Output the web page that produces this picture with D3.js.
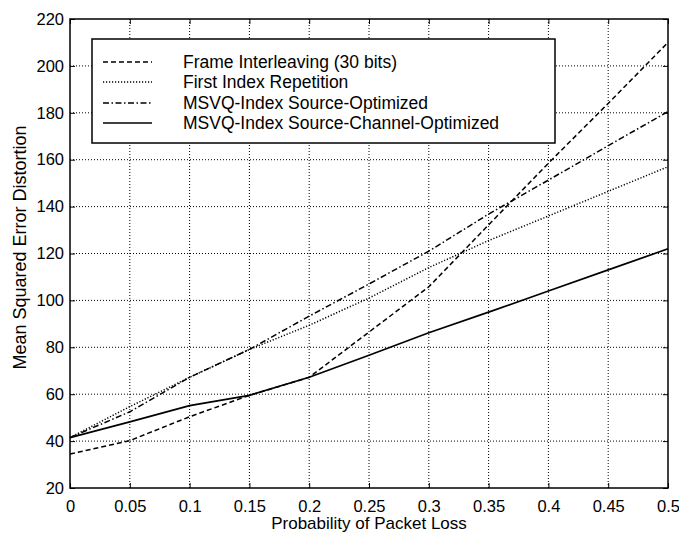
<!DOCTYPE html>
<html>
<head>
<meta charset="utf-8">
<script src="https://cdn.jsdelivr.net/npm/d3@7"></script>
<style>
  body { margin: 0; background: #fff; }
  svg { display: block; font-family: "Liberation Sans", Arial, sans-serif; }
</style>
</head>
<body>
<svg id="chart" width="679" height="533"></svg>
<script>
// probability of packet loss
const lossProb = [0, 0.05, 0.1, 0.15, 0.2, 0.25, 0.3, 0.35, 0.4, 0.45, 0.5];

// distortion values
const frameInterleaving = [34.5, 40.2, 50.4, 59.5, 67.2, 86.5, 105.8, 132.2, 158.5, 184, 210];
const firstIndexRep     = [41.5, 54.7, 67.2, 79.1, 89.4, 101, 114, 125.5, 136, 146.5, 157];
const sourceOptimized   = [41.5, 52.5, 67.2, 79.1, 93.3, 107, 121, 136.8, 151.3, 166, 180.5];
const sourceChannelOpt  = [41.5, 48.2, 55.1, 59.5, 67.2, 76.6, 86.2, 95, 104, 113, 122];

const seriesNames = [
  "Frame Interleaving (30 bits)",
  "First Index Repetition",
  "MSVQ-Index Source-Optimized",
  "MSVQ-Index Source-Channel-Optimized"
];
const seriesDash = ["5,3", "1.2,1.8", "6,2.5,1.5,2.5", null];

const xTicks = [0, 0.05, 0.1, 0.15, 0.2, 0.25, 0.3, 0.35, 0.4, 0.45, 0.5];
const yTicks = [20, 40, 60, 80, 100, 120, 140, 160, 180, 200, 220];

const allSeries = [frameInterleaving, firstIndexRep, sourceOptimized, sourceChannelOpt];

const svg = d3.select("#chart");
const pLeft = 70, pRight = 668, pTop = 19, pBottom = 488;

const x = d3.scaleLinear().domain([0, 0.5]).range([pLeft, pRight]);
const y = d3.scaleLinear().domain([20, 220]).range([pBottom, pTop]);

// grid (dotted, matlab style)
const grid = svg.append("g");
grid.selectAll(".vg")
  .data(xTicks.slice(1, -1))
  .enter().append("line")
  .attr("x1", d => x(d)).attr("x2", d => x(d))
  .attr("y1", pTop).attr("y2", pBottom)
  .attr("stroke", "#000").attr("stroke-width", 1)
  .attr("stroke-dasharray", "1,2");
grid.selectAll(".hg")
  .data(yTicks.slice(1, -1))
  .enter().append("line")
  .attr("x1", pLeft).attr("x2", pRight)
  .attr("y1", d => y(d)).attr("y2", d => y(d))
  .attr("stroke", "#000").attr("stroke-width", 1)
  .attr("stroke-dasharray", "1,2");

// axes, ticks point inward
const fmt = d => String(d);
svg.append("g")
  .attr("class", "xaxis")
  .attr("transform", `translate(0,${pBottom})`)
  .call(d3.axisBottom(x).tickValues(xTicks).tickFormat(fmt).tickSizeInner(-5).tickSizeOuter(0).tickPadding(12))
  .call(g => g.select(".domain").remove());
svg.append("g")
  .attr("transform", `translate(0,${pTop})`)
  .call(d3.axisTop(x).tickValues(xTicks).tickFormat("").tickSizeInner(-5).tickSizeOuter(0))
  .call(g => g.select(".domain").remove());
svg.append("g")
  .attr("class", "yaxis")
  .attr("transform", `translate(${pLeft},0)`)
  .call(d3.axisLeft(y).tickValues(yTicks).tickFormat(fmt).tickSizeInner(-5).tickSizeOuter(0).tickPadding(6))
  .call(g => g.select(".domain").remove());
svg.append("g")
  .attr("transform", `translate(${pRight},0)`)
  .call(d3.axisRight(y).tickValues(yTicks).tickFormat("").tickSizeInner(-5).tickSizeOuter(0))
  .call(g => g.select(".domain").remove());

svg.selectAll(".tick text")
  .attr("font-size", 16.5)
  .attr("font-family", "Liberation Sans, Arial, sans-serif")
  .attr("fill", "#000");
svg.selectAll(".tick line").attr("stroke", "#000");

// frame box
svg.append("rect")
  .attr("x", pLeft).attr("y", pTop)
  .attr("width", pRight - pLeft).attr("height", pBottom - pTop)
  .attr("fill", "none").attr("stroke", "#000").attr("stroke-width", 1.5);

// curves
const line = d3.line()
  .x((d, i) => x(lossProb[i]))
  .y(d => y(d));

svg.selectAll(".curve")
  .data(allSeries)
  .enter().append("path")
  .attr("class", "curve")
  .attr("d", line)
  .attr("fill", "none")
  .attr("stroke", "#000")
  .attr("stroke-width", (d, i) => i === 3 ? 1.7 : 1.5)
  .attr("stroke-dasharray", (d, i) => seriesDash[i]);

// legend
const legend = svg.append("g");
legend.append("rect")
  .attr("x", 92).attr("y", 39)
  .attr("width", 463).attr("height", 104)
  .attr("fill", "#fff").attr("stroke", "#000").attr("stroke-width", 1.5);

const rowY = [62, 82, 103, 123];
const items = legend.selectAll(".item")
  .data(seriesNames)
  .enter().append("g")
  .attr("transform", (d, i) => `translate(0,${rowY[i]})`);
items.append("line")
  .attr("x1", 103).attr("x2", 152)
  .attr("stroke", "#000")
  .attr("stroke-width", (d, i) => i === 3 ? 1.7 : 1.5)
  .attr("stroke-dasharray", (d, i) => seriesDash[i]);
items.append("text")
  .attr("x", 183).attr("y", 0)
  .attr("dy", "0.35em")
  .attr("font-size", 17.5)
  .text(d => d);

// axis titles
svg.append("text")
  .attr("x", (pLeft + pRight) / 2).attr("y", 529)
  .attr("text-anchor", "middle")
  .attr("font-size", 17)
  .text("Probability of Packet Loss");
svg.append("text")
  .attr("transform", `translate(26,${(pTop + pBottom) / 2 - 6}) rotate(-90)`)
  .attr("text-anchor", "middle")
  .attr("font-size", 18)
  .text("Mean Squared Error Distortion");
</script>
</body>
</html>
